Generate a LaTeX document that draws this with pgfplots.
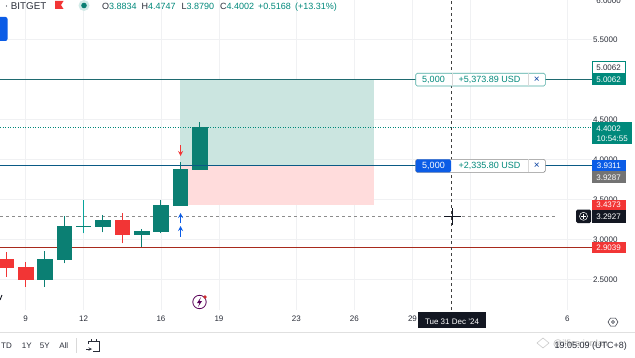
\documentclass[border=0pt]{standalone}
\usepackage{pgfplots}
\usepackage{fontspec}
\setmainfont{Liberation Sans}
\pgfplotsset{compat=1.18}
\definecolor{tvgreen}{HTML}{0B7F73}
\definecolor{tvred}{HTML}{F23535}
\definecolor{tvteal}{HTML}{00897B}
\definecolor{tvblue}{HTML}{0B5CE6}
\definecolor{tvgrid}{HTML}{F0F1F3}
\definecolor{tvdark}{HTML}{131722}
\definecolor{tvtext}{HTML}{2A2E39}
\definecolor{zonegreen}{HTML}{CBE5E0}
\definecolor{zonered}{HTML}{FFDCDC}
\definecolor{priceTP}{HTML}{1F6A70}
\definecolor{priceEntry}{HTML}{0A5A85}
\definecolor{priceSL}{HTML}{A82A1C}
\newcommand{\candle}[6]{%
  \addplot[#6,line width=1pt,forget plot] coordinates {(#1,#4) (#1,#3)};
  \addplot[draw=#6,fill=#6,line width=0.5pt,forget plot] coordinates {(#1-0.38,#2) (#1+0.38,#2) (#1+0.38,#5) (#1-0.38,#5)} -- cycle;
}
\begin{document}
\begin{tikzpicture}[x=1pt,y=1pt]
\path[use as bounding box,clip] (0,0) rectangle (635,357);
\fill[white] (0,0) rectangle (635,357);
\begin{axis}[
  at={(0pt,47pt)},anchor=south west,
  width=592pt,height=310pt,scale only axis,
  xmin=7.682,xmax=38.277,ymin=2.121,ymax=5.996,
  axis line style={draw=none},
  tick style={draw=none},
  clip=false,
  xtick={9,12,16,19,23,26,29,32,37},
  xticklabels={9,12,16,19,23,26,29,,6},
  ytick={2.5,3,3.5,4,4.5,5,5.5},
  yticklabels={2.5000,3.0000,3.5000,4.0000,4.5000,5.0000,5.5000},
  yticklabel pos=right,
  grid=both,
  grid style={tvgrid,line width=0.6pt},
  ticklabel style={font=\fontsize{8}{9}\selectfont,text=tvtext},
  yticklabel style={anchor=east,xshift=29pt},
  xticklabel style={yshift=-2.5pt},
  /pgf/number format/assume math mode=true,
]
% position zones
\addplot[fill=zonegreen,draw=none,forget plot] coordinates {(17,5.0062) (27,5.0062) (27,3.9311) (17,3.9311)} -- cycle;
\addplot[fill=zonered,draw=none,forget plot] coordinates {(17,3.9311) (27,3.9311) (27,3.4373) (17,3.4373)} -- cycle;
% price lines
\addplot[draw=black!45,line width=0.6pt,dash pattern=on 3pt off 3pt,forget plot] coordinates {(7.682,3.2927) (36.45,3.2927)};
\addplot[draw=tvteal,line width=0.7pt,dash pattern=on 1pt off 1.5pt,forget plot] coordinates {(7.682,4.4002) (38.277,4.4002)};
\addplot[fill=priceTP,draw=none,forget plot] coordinates {(7.682,5.0) (38.277,5.0) (38.277,5.0124) (7.682,5.0124)} -- cycle;
\addplot[fill=priceSL,draw=none,forget plot] coordinates {(7.682,2.8955) (38.277,2.8955) (38.277,2.9123) (7.682,2.9123)} -- cycle;
% candles
\candle{8}{2.759}{2.85}{2.534}{2.655}{tvred}
\candle{9}{2.655}{2.725}{2.4125}{2.505}{tvred}
\candle{10}{2.5}{2.8625}{2.4125}{2.759}{tvgreen}
\candle{11}{2.755}{3.296}{2.705}{3.171}{tvgreen}
\addplot[draw=tvgreen!70!cyan,line width=1pt,forget plot] coordinates {(12,3.08) (12,3.496)};
\addplot[fill=tvgreen,draw=none,forget plot] coordinates {(11.62,3.1615) (12.38,3.1615) (12.38,3.1735) (11.62,3.1735)} -- cycle;
\candle{13}{3.1625}{3.309}{3.0925}{3.2375}{tvgreen}
\candle{14}{3.2375}{3.3375}{2.955}{3.0675}{tvred}
\candle{15}{3.0625}{3.134}{2.905}{3.105}{tvgreen}
\candle{16}{3.1}{3.496}{3.08}{3.434}{tvgreen}
\candle{17}{3.425}{3.975}{3.425}{3.88}{tvgreen}
\candle{18}{3.8834}{4.4747}{3.879}{4.4002}{tvgreen}
\addplot[fill=priceEntry,draw=none,forget plot] coordinates {(7.682,3.9241) (38.277,3.9241) (38.277,3.9381) (7.682,3.9381)} -- cycle;
% crosshair
\addplot[draw=black!75,line width=0.6pt,dash pattern=on 3pt off 3pt,forget plot] coordinates {(31,2.121) (31,5.996)};
\end{axis}
% signal arrows
\draw[-{stealth},tvblue,line width=1.2pt] (180.5,357-236.5) -- (180.5,357-226);
\draw[-{stealth},tvblue,line width=1.2pt] (180.5,357-223) -- (180.5,357-213);
\draw[-{stealth},tvred,line width=1.2pt] (180.5,357-145) -- (180.5,357-156);
% cursor
\draw[tvdark,line width=0.5pt] (444,357-216) -- (461,357-216) (452.5,357-208) -- (452.5,357-225);
% order labels
\path[fill=white,draw=tvteal!70,line width=0.6pt,rounded corners=1.5pt] (415.7,357-73.3) rectangle (545.3,357-86);
\draw[black!15,line width=0.4pt] (451.7,357-73.3) -- (451.7,357-86) (528,357-73.3) -- (528,357-86);
\node[font=\fontsize{9}{9}\selectfont,text=tvteal] at (433.5,357-79.5) {5,000};
\node[font=\fontsize{9}{9}\selectfont,text=tvteal] at (489.5,357-79.5) {+5,373.89 USD};
\node[font=\fontsize{10}{10}\selectfont,text=tvblue!70!black] at (536.7,357-79.5) {×};
\path[fill=white,draw=black!45,line width=0.6pt,rounded corners=1.5pt] (415.7,357-159.3) rectangle (545.3,357-172.3);
\path[fill=tvblue,rounded corners=1.5pt] (415.7,357-159.3) rectangle (451,357-172.3);
\draw[black!15,line width=0.4pt] (528,357-159.3) -- (528,357-172.3);
\node[font=\fontsize{9}{9}\selectfont,text=white] at (433.5,357-165.5) {5,000};
\node[font=\fontsize{9}{9}\selectfont,text=tvteal] at (489.5,357-165.5) {+2,335.80 USD};
\node[font=\fontsize{10}{10}\selectfont,text=tvblue!70!black] at (536.7,357-165.5) {×};
% price scale tags
\tikzset{plabel/.style={font=\fontsize{8}{9}\selectfont,anchor=east,inner sep=0pt}}
\path[fill=white,draw=tvteal,line width=0.5pt] (592.5,357-61.7) rectangle (625,357-73.3);
\node[plabel,text=tvtext] at (621,357-67.5) {5.0062};
\fill[tvteal] (592,357-73.3) rectangle (625.5,357-85);
\node[plabel,text=white] at (621,357-79.3) {5.0062};
\fill[tvteal] (592,357-122.3) rectangle (632,357-144.3);
\node[plabel,text=white] at (621,357-128.3) {4.4002};
\node[plabel,text=white] at (628,357-138.3) {10:54:55};
\fill[tvblue] (592,357-159.5) rectangle (625.5,357-171);
\node[plabel,text=white] at (621,357-165.3) {3.9311};
\fill[black!55] (592,357-171) rectangle (625.5,357-183);
\node[plabel,text=white] at (621,357-177.3) {3.9287};
\fill[tvred] (592,357-199.5) rectangle (625.5,357-210);
\node[plabel,text=white] at (621,357-205) {3.4373};
\fill[tvdark] (592,357-209.5) rectangle (625.5,357-223);
\node[plabel,text=white] at (621,357-216.5) {3.2927};
\fill[tvdark,rounded corners=1.5pt] (576,357-209.5) rectangle (591,357-223);
\draw[white,line width=0.5pt] (583.5,357-216.3) circle (4pt);
\draw[white,line width=0.5pt] (581,357-216.3) -- (586,357-216.3) (583.5,357-213.8) -- (583.5,357-218.8);
\fill[tvred] (592,357-242) rectangle (625.5,357-253.3);
\node[plabel,text=white] at (621,357-247.8) {2.9039};
\node[plabel,text=tvtext] at (621,357-0.5) {6.0000};
% date tag
\fill[tvdark] (418,357-311.7) rectangle (486,357-328);
\node[font=\fontsize{8}{9}\selectfont,text=white] at (452,357-322) {Tue 31 Dec '24};
% hexagon button
\draw[tvtext,line width=0.5pt] (608,357-322) -- (610.5,357-318) -- (615.5,357-318) -- (618,357-322) -- (615.5,357-326) -- (610.5,357-326) -- cycle;
\draw[tvtext,line width=0.5pt] (613,357-322) circle (1.5pt);
% bottom separator
\draw[black!12,line width=0.7pt] (0,357-332) -- (635,357-332);
% header
\fill[tvblue,rounded corners=2pt] (-4,357-17) rectangle (7.5,357-41);
\node[font=\fontsize{9.8}{10}\selectfont,text=tvtext,anchor=base west,inner sep=0pt] at (10.7,357-9.5) {BITGET};
\fill[tvtext] (6.5,357-6) circle (0.7pt);
\fill[tvred] (55,357-1) -- (63.5,357-1) -- (61,357-5) -- (63.5,357-9) -- (55,357-9) -- cycle;
\fill[tvteal!18] (84,357-5.5) circle (5.5pt);
\fill[tvgreen] (84,357-5.5) circle (2.8pt);
\tikzset{ohlc/.style={font=\fontsize{9}{9}\selectfont,anchor=base west,inner sep=0pt}}
\node[ohlc,text=tvtext] at (102,357-9.2) {O\textcolor{tvteal}{3.8834}};
\node[ohlc,text=tvtext] at (141.5,357-9.2) {H\textcolor{tvteal}{4.4747}};
\node[ohlc,text=tvtext] at (181.5,357-9.2) {L\textcolor{tvteal}{3.8790}};
\node[ohlc,text=tvtext] at (220,357-9.2) {C\textcolor{tvteal}{4.4002}};
\node[ohlc,text=tvteal] at (258,357-9.2) {+0.5168};
\node[ohlc,text=tvteal] at (295,357-9.2) {(+13.31\%)};
% lightning icon
\draw[violet!70!black,line width=0.8pt] (199.5,357-302) circle (6.7pt);
\fill[violet!70!black] (201,357-297) -- (197,357-303) -- (199.5,357-303) -- (198,357-307) -- (202,357-301) -- (199.5,357-301) -- cycle;
\fill[tvred!85!black] (205,357-297) circle (1.8pt);
% stray glyph at left edge
\draw[tvdark,line width=0.9pt] (2,357-295) -- (0,357-300);
% bottom toolbar
\tikzset{bar/.style={font=\fontsize{8}{9}\selectfont,text=tvtext,inner sep=0pt}}
\node[bar,anchor=west] at (1,357-345.7) {TD};
\node[bar] at (26.7,357-345.7) {1Y};
\node[bar] at (44.7,357-345.7) {5Y};
\node[bar] at (63.7,357-345.7) {All};
\draw[black!15,line width=0.6pt] (76.3,357-338) -- (76.3,357-353);
\draw[tvtext,line width=0.6pt] (88,357-341) -- (99,357-341) -- (99,357-351) -- (93,357-351);
\draw[tvtext,line width=0.6pt] (88,357-341) -- (88,357-344) (91,357-339) -- (91,357-342) (96,357-339) -- (96,357-342);
\draw[tvtext,line width=0.6pt,-{stealth}] (86,357-349) -- (92,357-349);
% watermark and clock
\node[font=\fontsize{9}{9}\selectfont,text=black!30,anchor=west,inner sep=0pt] at (553,357-344) {@ilfica jordan};
\draw[black!20,line width=0.6pt] (537,357-343) -- (543,357-338) -- (549,357-343) -- (543,357-348) -- cycle;
\node[font=\fontsize{9}{9}\selectfont,text=tvtext,anchor=east,inner sep=0pt] at (627,357-345.7) {19:05:09 (UTC+8)};
\end{tikzpicture}
\end{document}
